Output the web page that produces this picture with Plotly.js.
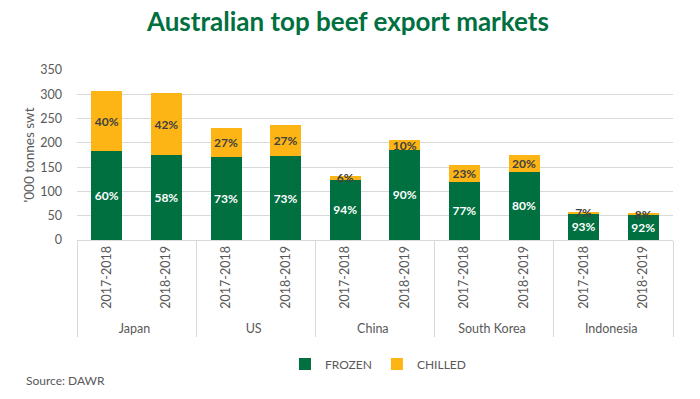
<!DOCTYPE html>
<html>
<head>
<meta charset="utf-8">
<script src="https://cdn.plot.ly/plotly-3.0.1.min.js"></script>
<style>html,body{margin:0;padding:0;background:#fff;}#chart{width:700px;height:399px;}</style>
</head>
<body>
<div id="chart"></div>
<script>
const countries = ['Japan','Japan','US','US','China','China','South Korea','South Korea','Indonesia','Indonesia'];
const years = ['2017-2018','2018-2019','2017-2018','2018-2019','2017-2018','2018-2019','2017-2018','2018-2019','2017-2018','2018-2019'];
const frozen = [184, 175, 170, 172, 124, 186, 120, 141, 54, 51];
const chilled = [122, 127, 61, 65, 8, 19, 35, 34, 4, 4];
const frozenPct = ['60%','58%','73%','73%','94%','90%','77%','80%','93%','92%'];
const chilledPct = ['40%','42%','27%','27%','6%','10%','23%','20%','7%','8%'];

const FONT = 'Lato, "Open Sans", sans-serif';
const GREEN = '#007040';
const YELLOW = '#FDB515';
const GREY = '#595959';

const traces = [
  {
    type: 'bar', name: 'FROZEN', x: [countries, years], y: frozen,
    marker: {color: GREEN},
    text: frozenPct, textposition: 'inside', insidetextanchor: 'middle',
    textangle: 0, constraintext: 'none',
    textfont: {family: FONT, size: 12, color: '#ffffff', weight: 'bold'},
    hoverinfo: 'y'
  },
  {
    type: 'bar', name: 'CHILLED', x: [countries, years], y: chilled,
    marker: {color: YELLOW},
    text: chilledPct, textposition: 'inside', insidetextanchor: 'middle',
    textangle: 0, constraintext: 'none',
    textfont: {family: FONT, size: 12, color: '#404040', weight: 'bold'},
    hoverinfo: 'y'
  }
];

const layout = {
  width: 700, height: 399,
  margin: {l: 77, r: 27, t: 70, b: 159},
  paper_bgcolor: '#ffffff', plot_bgcolor: '#ffffff',
  barmode: 'stack', bargap: 0.48,
  font: {family: FONT, color: GREY, size: 12},
  title: {
    text: '<b>Australian top beef export markets</b>',
    font: {family: FONT, size: 26, color: GREEN},
    x: 0.497, xref: 'container', xanchor: 'center',
    y: 0.945, yref: 'container', yanchor: 'middle'
  },
  xaxis: {
    type: 'multicategory',
    tickangle: -90,
    showline: true, linecolor: '#d9d9d9', linewidth: 1,
    showdividers: true, dividercolor: '#d9d9d9', dividerwidth: 1,
    tickfont: {family: FONT, size: 12.5, color: GREY},
    ticks: '', showgrid: false, zeroline: false
  },
  yaxis: {
    range: [0, 350], dtick: 50,
    showgrid: true, gridcolor: '#d9d9d9', gridwidth: 1,
    zeroline: false, showline: false,
    tickfont: {family: FONT, size: 12.5, color: GREY},
    ticks: '', ticklen: 0, ticklabelstandoff: 14,
    title: {text: "'000 tonnes swt", font: {family: FONT, size: 13.5, color: GREY}, standoff: 2}
  },
  showlegend: true,
  legend: {
    orientation: 'h', x: 0.505, xanchor: 'center', y: -0.73, yanchor: 'middle',
    font: {family: FONT, size: 12, color: GREY},
    traceorder: 'normal', itemwidth: 30
  },
  annotations: [
    {
      text: 'Source: DAWR', xref: 'paper', yref: 'paper',
      x: -0.089, y: -0.826, xanchor: 'left', yanchor: 'middle',
      showarrow: false, font: {family: FONT, size: 12, color: GREY}
    }
  ]
};

Plotly.newPlot('chart', traces, layout, {displayModeBar: false, staticPlot: true});
</script>
</body>
</html>
